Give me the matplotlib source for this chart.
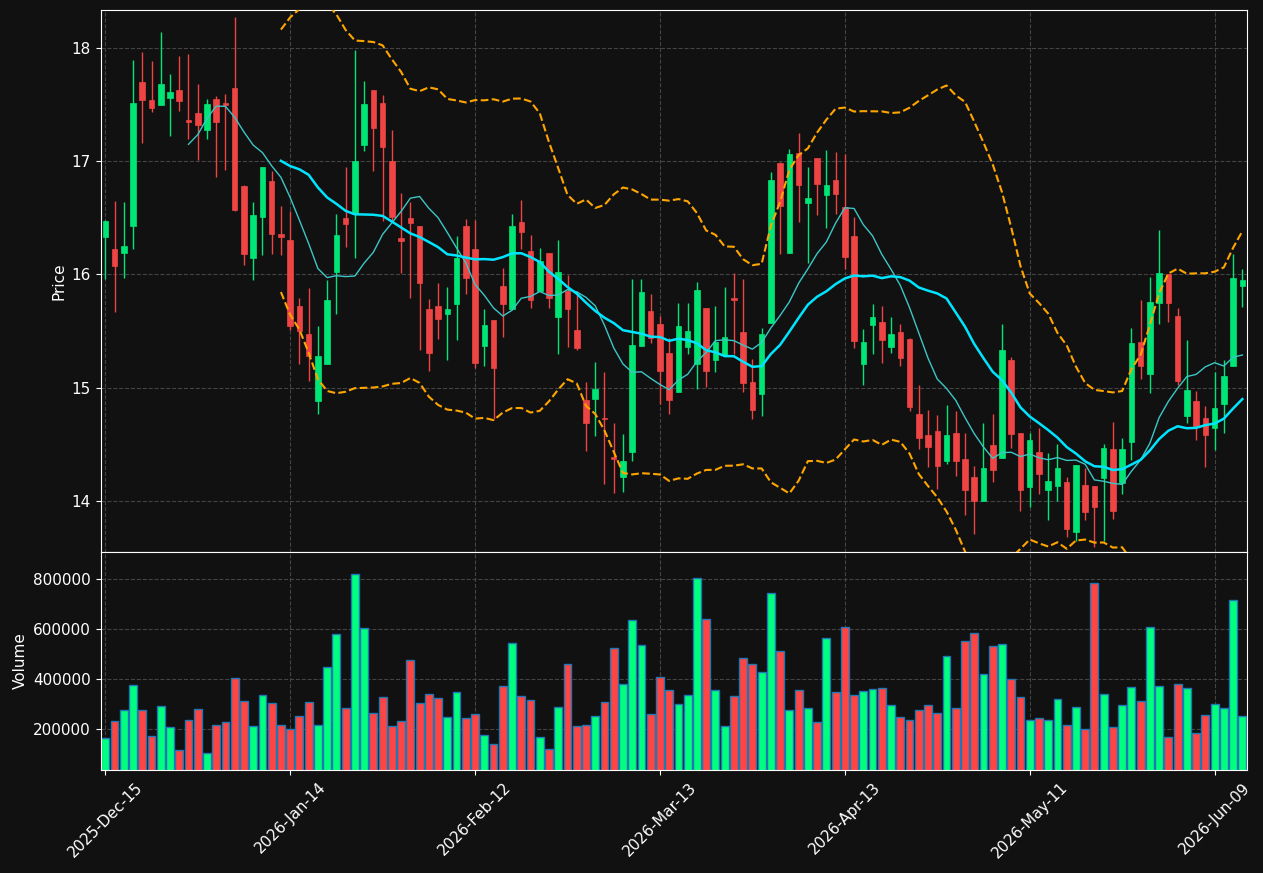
import numpy as np
import pandas as pd
import matplotlib
matplotlib.use('Agg')
import matplotlib.pyplot as plt
from matplotlib.patches import Rectangle
from matplotlib.ticker import FuncFormatter

holidays = ['2025-12-25', '2026-01-01', '2026-01-19', '2026-02-16', '2026-04-03', '2026-05-25']
dates = pd.bdate_range('2025-12-15', periods=124, freq='C', holidays=holidays)

opens = [16.33, 16.22, 16.19, 16.43, 17.70, 17.54, 17.49, 17.56, 17.63, 17.36,
         17.42, 17.27, 17.55, 17.51, 17.64, 16.78, 16.14, 16.51, 16.82, 16.36,
         16.30, 15.72, 15.47, 14.88, 15.21, 16.02, 16.50, 16.54, 17.14, 17.63,
         17.51, 17.00, 16.32, 16.50, 16.43, 15.69, 15.72, 15.65, 15.74, 16.43,
         16.22, 15.37, 15.60, 15.90, 15.69, 16.46, 16.21, 15.85, 16.19, 15.62,
         15.85, 15.51, 14.89, 14.90, 14.73, 14.39, 14.21, 14.43, 15.37, 15.68,
         15.56, 15.31, 14.96, 15.36, 15.21, 15.70, 15.24, 15.29, 15.79, 15.49,
         15.05, 14.94, 15.57, 16.98, 16.19, 17.07, 16.63, 17.03, 16.70, 16.83,
         16.59, 16.34, 15.21, 15.55, 15.58, 15.36, 15.49, 15.43, 14.77, 14.58,
         14.62, 14.35, 14.60, 14.37, 14.21, 14.00, 14.49, 14.38, 15.24, 14.60,
         14.12, 14.43, 14.10, 14.13, 14.17, 13.73, 14.14, 14.13, 14.20, 14.46,
         14.16, 14.52, 15.40, 15.12, 15.75, 16.00, 15.63, 14.75, 14.88, 14.73,
         14.64, 14.86, 15.19, 15.90]
highs = [16.48, 16.65, 16.64, 17.89, 17.96, 17.88, 18.14, 17.77, 17.93, 17.94,
         17.68, 17.55, 17.57, 17.59, 18.27, 16.79, 16.64, 16.95, 16.91, 16.60,
         16.56, 15.79, 15.88, 15.54, 15.95, 16.53, 16.95, 17.98, 17.71, 17.63,
         17.58, 17.27, 16.72, 16.64, 16.43, 15.78, 15.92, 15.89, 16.34, 16.49,
         16.48, 15.69, 15.60, 16.06, 16.53, 16.66, 16.35, 16.23, 16.19, 16.30,
         15.99, 15.85, 15.05, 15.23, 15.14, 14.69, 14.59, 15.96, 15.96, 15.83,
         15.63, 15.44, 15.75, 15.75, 15.93, 15.70, 15.72, 15.89, 16.01, 15.96,
         15.25, 15.53, 16.90, 16.99, 17.11, 17.25, 16.95, 17.03, 17.10, 17.08,
         17.06, 16.51, 15.52, 15.74, 15.72, 15.62, 15.56, 15.44, 15.02, 14.80,
         14.76, 14.85, 14.79, 14.60, 14.31, 14.69, 14.77, 15.56, 15.27, 14.60,
         14.60, 14.64, 14.42, 14.50, 14.21, 14.32, 14.29, 14.13, 14.50, 14.70,
         14.56, 15.53, 15.77, 15.98, 16.39, 16.00, 15.70, 15.42, 14.97, 14.84,
         15.14, 15.24, 16.18, 16.05]
lows = [15.96, 15.67, 15.97, 16.22, 17.16, 17.43, 17.49, 17.22, 17.44, 17.19,
        17.01, 17.19, 16.86, 16.92, 16.56, 16.08, 15.95, 16.17, 16.18, 16.17,
        15.51, 15.21, 15.06, 14.77, 15.21, 15.65, 16.24, 16.14, 17.09, 16.91,
        16.47, 16.47, 16.01, 15.79, 15.33, 15.15, 15.43, 15.24, 15.42, 15.83,
        15.17, 15.19, 14.72, 15.45, 15.69, 16.22, 15.70, 15.85, 15.70, 15.30,
        15.36, 15.33, 14.44, 14.57, 14.15, 14.07, 14.08, 14.35, 15.37, 15.39,
        14.86, 14.77, 14.96, 15.30, 14.99, 15.01, 15.14, 15.29, 15.30, 14.96,
        14.72, 14.75, 15.57, 16.18, 16.19, 16.46, 16.10, 16.52, 16.41, 16.53,
        16.05, 15.35, 15.02, 15.30, 15.22, 15.31, 15.19, 14.79, 14.46, 14.30,
        14.11, 14.33, 14.22, 13.88, 13.71, 14.00, 14.17, 14.38, 14.47, 13.91,
        13.95, 14.06, 13.83, 14.00, 13.68, 13.65, 13.83, 13.59, 13.65, 13.84,
        14.06, 14.36, 15.08, 14.95, 15.56, 15.58, 15.02, 14.69, 14.54, 14.30,
        14.45, 14.60, 15.19, 15.71]
closes = [16.47, 16.07, 16.25, 17.51, 17.54, 17.47, 17.68, 17.61, 17.53, 17.34,
          17.32, 17.50, 17.34, 17.49, 16.57, 16.18, 16.52, 16.95, 16.36, 16.33,
          15.54, 15.50, 15.28, 15.28, 15.77, 16.35, 16.44, 17.00, 17.50, 17.29,
          17.12, 16.51, 16.29, 16.45, 15.92, 15.31, 15.61, 15.69, 16.14, 15.97,
          15.22, 15.55, 15.17, 15.74, 16.43, 16.37, 15.77, 16.12, 15.79, 16.02,
          15.69, 15.35, 14.69, 14.99, 14.72, 14.37, 14.35, 15.38, 15.84, 15.44,
          15.15, 14.89, 15.54, 15.50, 15.86, 15.15, 15.40, 15.45, 15.77, 15.04,
          14.80, 15.47, 16.83, 16.60, 17.06, 16.79, 16.67, 16.80, 16.79, 16.71,
          16.15, 15.41, 15.40, 15.62, 15.42, 15.47, 15.26, 14.83, 14.56, 14.48,
          14.31, 14.58, 14.35, 14.10, 14.00, 14.29, 14.27, 15.33, 14.59, 14.10,
          14.54, 14.24, 14.18, 14.29, 13.75, 14.32, 13.90, 13.95, 14.47, 13.91,
          14.46, 15.39, 15.19, 15.76, 16.01, 15.75, 15.06, 14.98, 14.66, 14.58,
          14.82, 15.10, 15.97, 15.95]
volumes = [163000, 232000, 276000, 376000, 276000, 173000, 292000, 208000, 116000, 236000,
           280000, 104000, 216000, 228000, 404000, 312000, 212000, 336000, 304000, 216000,
           200000, 252000, 308000, 216000, 448000, 580000, 284000, 820000, 604000, 264000,
           328000, 212000, 232000, 476000, 304000, 340000, 324000, 248000, 348000, 244000,
           260000, 176000, 140000, 372000, 544000, 332000, 316000, 168000, 120000, 288000,
           460000, 212000, 216000, 252000, 308000, 524000, 380000, 636000, 536000, 260000,
           408000, 356000, 300000, 336000, 804000, 640000, 356000, 212000, 332000, 484000,
           460000, 428000, 744000, 512000, 276000, 356000, 284000, 228000, 564000, 348000,
           608000, 336000, 352000, 360000, 364000, 296000, 248000, 236000, 276000, 296000,
           264000, 492000, 284000, 552000, 584000, 420000, 532000, 540000, 400000, 328000,
           236000, 244000, 236000, 320000, 216000, 288000, 200000, 784000, 340000, 208000,
           296000, 368000, 312000, 608000, 372000, 168000, 380000, 364000, 184000, 256000,
           300000, 284000, 716000, 252000]

df = pd.DataFrame({'Open': opens, 'High': highs, 'Low': lows, 'Close': closes,
                   'Volume': volumes}, index=dates)
ma10 = df['Close'].rolling(10).mean()
ma20 = df['Close'].rolling(20).mean()
std20 = df['Close'].rolling(20).std()
bb_up = ma20 + 2 * std20
bb_lo = ma20 - 2 * std20

bg = '#111111'
up_c, down_c = '#00e676', '#ef4444'
vup_c, vdown_c = '#00ff7f', '#ff4444'

fig = plt.figure(figsize=(12.63, 8.73), dpi=100, facecolor=bg)
ax = fig.add_axes([0.0797, 0.3677, 0.9076, 0.6212])
axv = fig.add_axes([0.0797, 0.1180, 0.9076, 0.2497], sharex=ax)

x = np.arange(len(df))
for i in x:
    o, h, l, c = df['Open'].iloc[i], df['High'].iloc[i], df['Low'].iloc[i], df['Close'].iloc[i]
    col = up_c if c >= o else down_c
    ax.vlines(i, l, h, color=col, linewidth=1, zorder=2)
    bottom = min(o, c)
    height = max(abs(c - o), 0.015)
    ax.add_patch(Rectangle((i - 0.3, bottom), 0.6, height, facecolor=col,
                           edgecolor=col, linewidth=0.5, zorder=3))

ax.plot(x, ma10, color='#3cc6c6', linewidth=1, zorder=4)
ax.plot(x, ma20, color='#00e5ff', linewidth=1.8, zorder=4)
ax.plot(x, bb_up, color='orange', linestyle='--', linewidth=1.5, zorder=4)
ax.plot(x, bb_lo, color='orange', linestyle='--', linewidth=1.5, zorder=4)

vcols = [vup_c if c >= o else vdown_c for o, c in zip(opens, closes)]
axv.bar(x, df['Volume'], width=0.85, color=vcols, edgecolor='#1f77b4', linewidth=1)

ax.set_ylim(13.55, 18.335)
ax.set_yticks([14, 15, 16, 17, 18])
axv.set_ylim(36000, 906000)
axv.set_yticks([200000, 400000, 600000, 800000])
axv.yaxis.set_major_formatter(FuncFormatter(lambda v, p: '%d' % v))
ax.set_xlim(-0.5, len(df) - 0.5)

tick_pos = list(range(0, len(df), 20))
axv.set_xticks(tick_pos)
axv.set_xticklabels([dates[p].strftime('%Y-%b-%d') for p in tick_pos], rotation=45)
plt.setp(ax.get_xticklabels(), visible=False)

for a in (ax, axv):
    a.set_facecolor(bg)
    a.grid(True, color='#444444', linestyle='--', linewidth=0.8)
    a.set_axisbelow(True)
    for s in a.spines.values():
        s.set_color('white')
    a.tick_params(colors='white', labelsize=11)

ax.set_ylabel('Price', color='white', fontsize=11)
axv.set_ylabel('Volume', color='white', fontsize=11)

fig.savefig('out.png', dpi=100, facecolor=bg)
